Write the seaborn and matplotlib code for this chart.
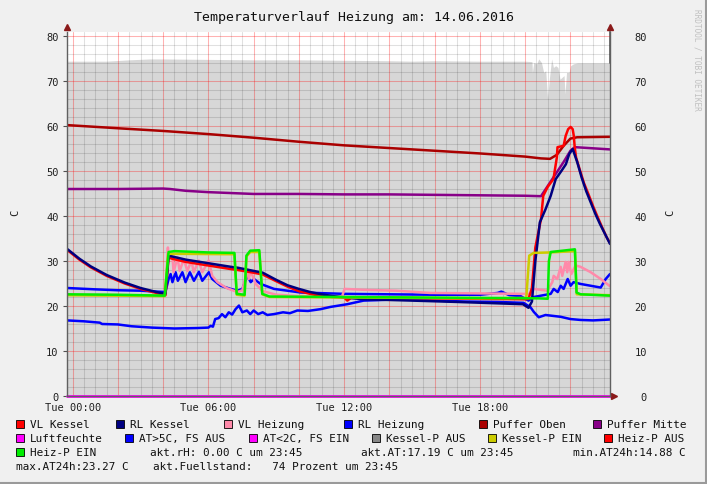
import numpy as np
import matplotlib.pyplot as plt
from matplotlib.ticker import MultipleLocator, FixedLocator, FuncFormatter
from matplotlib.patches import Rectangle
from matplotlib.lines import Line2D
import seaborn as sns

sns.set_theme(style='white')
plt.rcParams['font.family'] = ['DejaVu Sans Mono', 'DejaVu Sans']

# ---- Daten (Stunden seit 00:00, Werte in C bzw. Prozent) ----
fuell_t = [-0.25, 1.5, 2.5, 3.4, 4.0, 6.0, 8.0, 10.0, 12.0, 14.0, 15.0, 16.0, 18.0, 20.0, 20.3,
           20.32, 20.38, 20.51, 20.6, 20.72, 20.82, 20.91, 20.99, 21.07, 21.17, 21.25, 21.35, 21.45,
           21.54, 21.72, 21.76, 21.83, 21.94, 22.01, 22.13, 22.31, 23.75]
fuell_v = [74.4, 74.4, 74.7, 74.9, 74.9, 74.8, 74.7, 74.7, 74.6, 74.5, 74.4, 74.5, 74.4, 74.4, 74.3,
           71.9, 74.1, 73.8, 74.9, 74.1, 71.9, 72.3, 66.0, 70.5, 74.9, 73.0, 73.4, 73.0,
           70.4, 71.2, 67.1, 71.9, 71.9, 73.4, 73.8, 74.0, 74.0]

oben_t = [-0.25, 2, 4, 6, 8, 10, 12, 14, 16, 18, 20, 20.7, 21.1, 21.4, 21.7, 22.0, 22.3, 23.75]
oben_v = [60.2, 59.5, 58.9, 58.2, 57.4, 56.5, 55.7, 55.1, 54.5, 53.9, 53.2, 52.8, 52.7, 53.6, 55.6, 57.2, 57.5, 57.6]

mitte_t = [-0.25, 2, 4, 4.3, 5, 6, 7, 8, 10, 12, 14, 16, 18, 20, 20.7, 21.2, 21.7, 22.0, 22.2, 23.75]
mitte_v = [46.0, 46.0, 46.1, 46.0, 45.6, 45.3, 45.1, 44.9, 44.9, 44.8, 44.8, 44.7, 44.6, 44.5, 44.4, 48.2, 52.0, 54.5, 55.3, 54.8]

rlk_t = [-0.25, 0.3, 0.8, 1.5, 2.3, 3.0, 3.7, 4.1, 4.24, 4.4, 5, 6, 7, 7.3, 8.0, 8.4, 9.0, 9.5, 10.0,
         10.5, 11.0, 11.5, 12.0, 12.86, 15.0, 17.0, 19.9, 20.15, 20.3, 20.45, 20.6, 20.65, 20.9, 21.13,
         21.35, 21.6, 21.8, 21.95, 22.1, 22.3, 22.5, 22.7, 22.9, 23.1, 23.3, 23.55, 23.75]
rlk_v = [32.7, 30.5, 28.8, 26.9, 25.2, 24.0, 23.1, 22.7, 31.2, 31.0, 30.3, 29.5, 28.7, 28.5, 27.8, 27.4, 25.8, 24.6, 23.8,
         23.1, 22.6, 22.2, 21.9, 21.5, 21.2, 20.9, 20.4, 19.6, 21.0, 30.0, 36.4, 38.6, 41.5, 44.5,
         48.2, 50.0, 51.5, 53.8, 54.9, 52.0, 48.5, 45.5, 43.0, 40.5, 38.3, 35.8, 33.8]

vlk_t = [-0.25, 0.3, 0.8, 1.5, 2.3, 3.0, 3.7, 4.1, 4.24, 4.4, 5, 6, 7, 7.3, 8.0, 8.4, 9.0, 9.5, 10.0,
         10.5, 11.0, 11.5, 12.0, 12.14, 12.3, 14, 16, 18, 20.0, 20.15, 20.3, 20.45, 20.7, 20.8, 21.0, 21.25,
         21.4, 21.43, 21.7, 21.79, 21.9, 22.01, 22.1, 22.15, 22.19, 22.25, 22.4, 22.6, 22.8, 23.0, 23.2,
         23.4, 23.6, 23.75]
vlk_v = [32.5, 30.3, 28.6, 26.7, 25.0, 23.8, 22.9, 22.4, 30.8, 30.5, 29.8, 29.0, 28.2, 28.0, 27.4, 27.0, 25.5, 24.3, 23.3,
         22.7, 22.2, 22.0, 21.9, 21.2, 21.8, 21.8, 21.7, 21.6, 21.5, 21.6, 24.0, 33.0, 39.3, 44.5, 46.5, 48.2,
         53.0, 55.3, 55.6, 57.8, 59.3, 59.8, 59.3, 57.8, 55.3, 53.0, 50.5, 47.3, 44.8, 42.2, 39.8,
         37.5, 35.3, 34.0]

heizp_t = [-0.25, 2.0, 4.07, 4.24, 4.5, 6.0, 7.15, 7.25, 7.6, 7.68, 7.85, 8.25, 8.38, 8.7, 12, 18, 20.6,
           21.0, 21.05, 21.13, 22.2, 22.27, 22.45, 23.75]
heizp_v = [22.6, 22.5, 22.3, 32.0, 32.2, 31.9, 31.8, 22.7, 22.5, 31.2, 32.3, 32.4, 22.7, 22.1, 22.0, 21.8, 21.7,
           21.6, 30.0, 32.0, 32.6, 23.0, 22.6, 22.3]

kesselp_t = [-0.25, 4.07, 4.22, 4.5, 7.15, 7.25, 7.6, 7.68, 7.85, 8.25, 8.38, 8.7, 12, 18, 20.05,
             20.18, 20.38, 21.1, 22.2, 22.28, 23.75]
kesselp_v = [22.4, 22.2, 31.6, 31.6, 31.5, 22.5, 22.3, 31.0, 32.0, 32.0, 22.6, 22.0, 21.9, 21.7, 21.8,
             31.2, 31.8, 31.9, 32.2, 22.6, 22.4]

vlh_t = [-0.25, 2.0, 4.1, 4.21, 4.24, 4.41, 4.46, 4.63, 4.73, 4.91, 5.07, 5.25, 5.35, 5.57, 5.73, 6.01,
         6.17, 6.4, 6.8, 7.28, 7.5, 7.72, 7.78, 7.87, 8.09, 8.4, 9.0, 10.0, 11.9, 12.02, 12.86, 14.3,
         15.8, 18.0, 19.9, 20.24, 20.38, 20.98, 21.2, 21.26, 21.42, 21.57, 21.64, 21.79, 21.86, 21.92,
         22.04, 22.23, 22.45, 22.9, 23.34, 23.75]
vlh_v = [22.5, 22.4, 22.3, 33.0, 30.4, 31.2, 27.5, 30.8, 27.8, 30.4, 27.8, 30.1, 27.5, 30.1, 27.5, 30.1,
         26.7, 25.3, 24.0, 23.1, 23.5, 28.2, 26.0, 27.8, 24.9, 23.3, 22.5, 22.2, 22.0, 23.8, 23.6, 23.4,
         22.9, 22.8, 22.7, 22.7, 23.8, 23.4, 25.3, 26.7, 26.0, 28.7, 26.7, 29.8, 27.5, 29.8,
         27.1, 29.0, 28.7, 27.5, 26.0, 24.4]

rlh_t = [-0.25, 1.0, 2.0, 3.0, 4.1, 4.24, 4.33, 4.41, 4.55, 4.65, 4.85, 4.99, 5.18, 5.36, 5.58, 5.73,
         6.02, 6.17, 6.54, 6.98, 7.28, 7.5, 7.72, 7.87, 8.01, 8.31, 8.9, 10.08, 12.0, 14.0, 16.0, 18.0,
         18.78, 18.95, 19.3, 19.8, 20.15, 20.38, 21.13, 21.26, 21.44, 21.57, 21.7, 21.88, 22.01, 22.14,
         22.45, 23.34, 23.56, 23.75]
rlh_v = [24.0, 23.7, 23.5, 23.4, 23.1, 26.0, 27.1, 25.3, 27.5, 25.6, 27.5, 25.3, 27.5, 25.6, 27.6, 25.6,
         27.5, 26.0, 24.5, 23.8, 23.4, 23.8, 26.7, 25.3, 26.0, 24.9, 23.8, 23.0, 22.7, 22.6, 22.5, 22.5,
         22.9, 23.2, 22.4, 22.2, 21.2, 22.0, 22.7, 23.8, 23.1, 24.5, 23.8, 26.0, 24.5, 25.3,
         24.9, 24.1, 26.0, 27.1]

at_t = [-0.25, 0.5, 1.2, 1.3, 2.0, 2.6, 3.5, 4.5, 5.5, 6.0, 6.1, 6.2, 6.3, 6.45, 6.6, 6.75, 6.9, 7.05,
        7.2, 7.35, 7.5, 7.7, 7.85, 8.0, 8.2, 8.4, 8.6, 8.9, 9.3, 9.6, 9.93, 10.4, 10.96, 11.4, 12.14,
        12.86, 13.5, 14.35, 15.5, 17.28, 18.78, 19.93, 20.24, 20.38, 20.6, 20.9, 21.57, 22.0, 22.45,
        23.0, 23.4, 23.75]
at_v = [16.8, 16.6, 16.3, 16.0, 15.9, 15.5, 15.2, 15.0, 15.1, 15.2, 15.6, 15.4, 17.1, 17.3, 18.2, 17.5,
        18.6, 18.1, 19.3, 20.1, 18.6, 19.0, 18.2, 19.0, 18.2, 18.6, 18.0, 18.2, 18.6, 18.4, 19.0, 18.9,
        19.3, 19.8, 20.4, 21.2, 21.3, 21.5, 21.3, 21.0, 20.9, 20.7, 19.7, 18.7, 17.5, 18.0, 17.6, 17.1,
        16.9, 16.8, 16.9, 17.0]

null_t = [-0.25, 23.75]
null_v = [0.0, 0.0]

y_ticks = [0, 10, 20, 30, 40, 50, 60, 70, 80]

legend_rows = [
    ['VL Kessel', 'RL Kessel', 'VL Heizung', 'RL Heizung', 'Puffer Oben', 'Puffer Mitte'],
    ['Luftfeuchte', 'AT>5C, FS AUS', 'AT<2C, FS EIN', 'Kessel-P AUS', 'Kessel-P EIN', 'Heiz-P AUS'],
    ['Heiz-P EIN'],
]
legend_colors = [
    ['#ff0000', '#000080', '#ff8aaa', '#0000ff', '#aa0000', '#880088'],
    ['#ff00ff', '#0000ff', '#ff00ff', '#888888', '#cccc00', '#ff0000'],
    ['#00ee00'],
]
info_texts = ['akt.rH: 0.00 C um 23:45', 'akt.AT:17.19 C um 23:45', 'min.AT24h:14.88 C',
              'max.AT24h:23.27 C', 'akt.Fuellstand:   74 Prozent um 23:45']

W, H = 707, 485
fig = plt.figure(figsize=(W / 100, H / 100), dpi=100, facecolor='#f0f0f0')
ax = fig.add_axes([67 / W, 1 - 397 / H, 543 / W, 364.5 / H])
ax.set_facecolor('white')

ax.fill_between(fuell_t, fuell_v, 0, color='#d7d7d7', lw=0, zorder=1)


def line(t, v, color, lw=1.8):
    sns.lineplot(x=t, y=v, ax=ax, color=color, linewidth=lw, estimator=None, sort=False, legend=False)


line(oben_t, oben_v, '#aa0000')
line(mitte_t, mitte_v, '#880088')
line(at_t, at_v, '#0000ff')
line(rlh_t, rlh_v, '#0000ff')
line(vlh_t, vlh_v, '#ff8aaa')
line(vlk_t, vlk_v, '#ff0000')
line(rlk_t, rlk_v, '#000080')
line(kesselp_t, kesselp_v, '#cccc00')
line(heizp_t, heizp_v, '#00ee00')
line(null_t, null_v, '#ff00ff', lw=2)
ax.lines[-1].set_clip_on(False)

ax.set_xlim(-0.25, 23.75)
ax.set_ylim(0, 81)
ax.set_xlabel('')
ax.set_ylabel('')

ax.xaxis.set_major_locator(MultipleLocator(2))
ax.xaxis.set_minor_locator(MultipleLocator(0.5))
ax.yaxis.set_major_locator(FixedLocator(y_ticks))
ax.yaxis.set_minor_locator(MultipleLocator(2))
ax.xaxis.set_major_formatter(FuncFormatter(
    lambda v, p: f'Tue {int(round(v)):02d}:00' if round(v) % 6 == 0 else ''))
ax.set_axisbelow('line')
ax.grid(which='minor', color='black', alpha=0.12, lw=0.75)
ax.grid(which='major', color='red', alpha=0.3, lw=0.75)

ax.tick_params(axis='x', which='both', length=0, pad=4, labelsize=7.5, labelcolor='#202020')
ax.tick_params(axis='y', which='major', length=3, width=0.8, color='#505050', pad=3,
               labelsize=7.5, labelcolor='#202020', left=True)
ax.tick_params(axis='y', which='minor', length=0)

sec = ax.secondary_yaxis('right')
sec.yaxis.set_major_locator(FixedLocator(y_ticks))
sec.tick_params(length=0, pad=26.5, labelsize=7.5, labelcolor='#202020')
for lbl in sec.get_yticklabels():
    lbl.set_ha('right')
sec.spines['right'].set_color('#606060')

for s in ['left', 'right', 'bottom']:
    ax.spines[s].set_color('#606060')
    ax.spines[s].set_linewidth(1)
ax.spines['top'].set_visible(False)

# Pfeile an den Achsen
ax.plot([0], [1 + 4 / 364], marker='^', ms=4.5, color='#8b1a1a', transform=ax.transAxes, clip_on=False)
ax.plot([1], [1 + 4 / 364], marker='^', ms=4.5, color='#8b1a1a', transform=ax.transAxes, clip_on=False)
ax.plot([1 + 4 / 543], [0], marker='>', ms=4.5, color='#8b1a1a', transform=ax.transAxes, clip_on=False)

fig.text(0.5, 1 - 17 / H, 'Temperaturverlauf Heizung am: 14.06.2016', ha='center', va='center',
         fontsize=9.5, color='#101010')
fig.text(15 / W, 1 - 213 / H, 'C', rotation=90, ha='center', va='center', fontsize=7.5, color='#202020')
fig.text(670 / W, 1 - 213 / H, 'C', rotation=90, ha='center', va='center', fontsize=7.5, color='#202020')
fig.text(697 / W, 1 - 60 / H, 'RRDTOOL / TOBI OETIKER', rotation=270, ha='center', va='center',
         fontsize=5.6, color='#c0c0c0')

# Legende
sq_x = [[16, 116, 224, 344, 479, 593], [16, 125, 249, 372, 488, 604], [16]]
row_y = [425, 439, 453]
for r, labels in enumerate(legend_rows):
    for i, lab in enumerate(labels):
        x0 = sq_x[r][i]
        y0 = row_y[r]
        fig.add_artist(Rectangle((x0 / W, 1 - (y0 + 4) / H), 8 / W, 8 / H, transform=fig.transFigure,
                                 fc=legend_colors[r][i], ec='black', lw=0.6))
        fig.text((x0 + 14) / W, 1 - y0 / H, lab, ha='left', va='center', fontsize=7.9, color='#101010')

info_pos = [(150, 453), (361, 453), (573, 453), (16, 467), (153, 467)]
for (x0, y0), txt in zip(info_pos, info_texts):
    fig.text(x0 / W, 1 - y0 / H, txt, ha='left', va='center', fontsize=7.9, color='#101010')

# Rahmen
fig.add_artist(Line2D([1 - 1.5 / W, 1 - 1.5 / W], [0, 1], color='#9a9a9a', lw=1.5, transform=fig.transFigure))
fig.add_artist(Line2D([0, 1], [1.5 / H, 1.5 / H], color='#9a9a9a', lw=1.5, transform=fig.transFigure))

fig.savefig('out.png', dpi=100, facecolor=fig.get_facecolor())
